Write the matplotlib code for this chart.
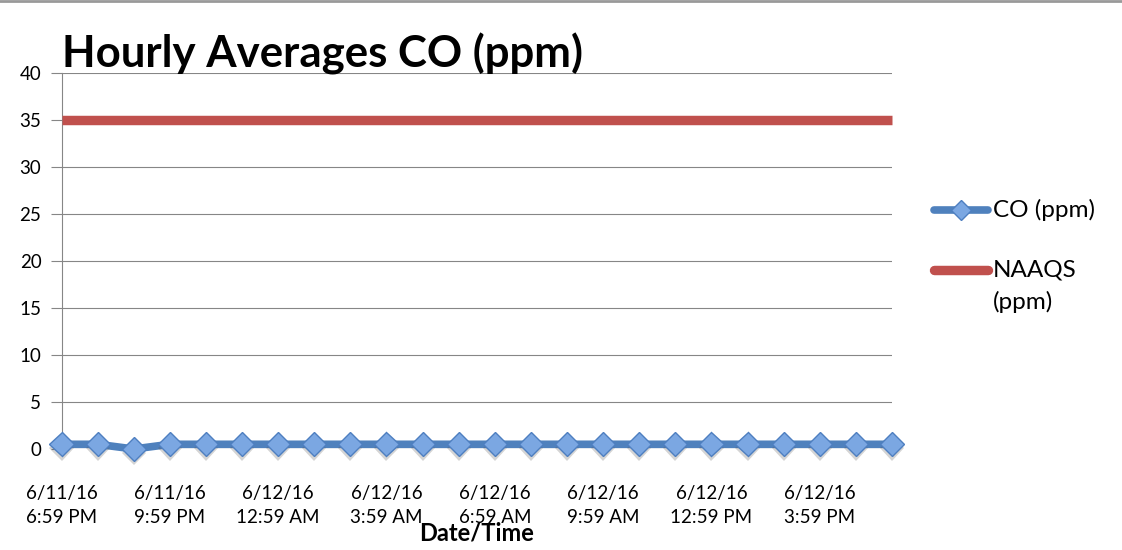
import matplotlib.pyplot as plt
import matplotlib.patheffects as pe
from matplotlib.lines import Line2D

plt.rcParams['font.family'] = ['Lato', 'DejaVu Sans']

# hourly categories, 6/11/16 6:59 PM .. 6/12/16 5:59 PM
times = ['6/11/16\n6:59 PM', '6/11/16\n7:59 PM', '6/11/16\n8:59 PM',
         '6/11/16\n9:59 PM', '6/11/16\n10:59 PM', '6/11/16\n11:59 PM',
         '6/12/16\n12:59 AM', '6/12/16\n1:59 AM', '6/12/16\n2:59 AM',
         '6/12/16\n3:59 AM', '6/12/16\n4:59 AM', '6/12/16\n5:59 AM',
         '6/12/16\n6:59 AM', '6/12/16\n7:59 AM', '6/12/16\n8:59 AM',
         '6/12/16\n9:59 AM', '6/12/16\n10:59 AM', '6/12/16\n11:59 AM',
         '6/12/16\n12:59 PM', '6/12/16\n1:59 PM', '6/12/16\n2:59 PM',
         '6/12/16\n3:59 PM', '6/12/16\n4:59 PM', '6/12/16\n5:59 PM']
co_ppm = [0.5, 0.5, 0.0, 0.5, 0.5, 0.5, 0.5, 0.5, 0.5, 0.5, 0.5, 0.5,
          0.5, 0.5, 0.5, 0.5, 0.5, 0.5, 0.5, 0.5, 0.5, 0.5, 0.5, 0.5]
naaqs_ppm = [35, 35, 35, 35, 35, 35, 35, 35, 35, 35, 35, 35,
             35, 35, 35, 35, 35, 35, 35, 35, 35, 35, 35, 35]
y_ticks = [0, 5, 10, 15, 20, 25, 30, 35, 40]

blue = '#4F81BD'
red = '#C0504D'
mark_face = '#7BA7E2'
mark_edge = '#4E7FC0'
grid_col = '#868686'
label_size = 13.5
legend_size = 17.5

fig = plt.figure(figsize=(11.22, 5.5), dpi=100, facecolor='w')
ax = fig.add_axes([61.5/1122, 101/550, 830.5/1122, 376/550])

xs = list(range(len(times)))
ax.plot(xs, naaqs_ppm, color=red, lw=6.8, solid_capstyle='butt', clip_on=False, zorder=3)
ax.plot(xs, co_ppm, color=blue, lw=5.5, clip_on=False, zorder=4)
ax.plot(xs, co_ppm, ls='none', marker='D', ms=12.3, mfc=mark_face, mec=mark_edge, mew=1,
        clip_on=False, zorder=5,
        path_effects=[pe.SimplePatchShadow(offset=(0, -3), shadow_rgbFace='#555555', alpha=0.25),
                      pe.Normal()])

ax.set_xlim(0, len(times) - 1)
ax.set_ylim(0, 40)
ax.set_yticks(y_ticks)
ax.set_xticks(xs[::3])
ax.set_xticklabels(times[::3], fontsize=label_size, linespacing=1.5)
ax.tick_params(axis='x', length=0, pad=26)
ax.tick_params(axis='y', length=8, width=0.8, color=grid_col, pad=6.5, labelsize=label_size)
ax.grid(axis='y', color=grid_col, lw=0.8)
ax.set_axisbelow(True)
for s in ['top', 'right', 'bottom']:
    ax.spines[s].set_visible(False)
ax.spines['left'].set_color(grid_col)
ax.spines['left'].set_linewidth(0.8)

ax.set_xlabel('Date/Time', fontsize=17, fontweight='bold')
ax.xaxis.set_label_coords(0.5, -0.192)
ax.text(0.0, 1 + 6/376, 'Hourly Averages CO (ppm)', transform=ax.transAxes, fontsize=31.5,
        fontweight='bold', ha='left', va='baseline')

# legend keys drawn by hand so the key sits on the first line of "NAAQS (ppm)"
x0, x1 = 934/1122, 988/1122
y_co, y_na = 1 - 210/550, 1 - 270/550
fig.add_artist(Line2D([x0, x1], [y_co, y_co], color=blue, lw=5.5, solid_capstyle='round'))
fig.add_artist(Line2D([(x0 + x1)/2], [y_co], ls='none', marker='D', ms=10.5,
                      mfc=mark_face, mec=mark_edge, mew=1))
fig.add_artist(Line2D([x0, x1], [y_na, y_na], color=red, lw=6.8, solid_capstyle='round'))
fig.text(993/1122, y_co, 'CO (ppm)', fontsize=legend_size, ha='left', va='center')
fig.text(993/1122, y_na, 'NAAQS', fontsize=legend_size, ha='left', va='center')
fig.text(993/1122, y_na - 32/550, '(ppm)', fontsize=legend_size, ha='left', va='center')

fig.add_artist(Line2D([0, 1], [0.998, 0.998], color='#999999', lw=2))

fig.savefig('out.png', dpi=100)
